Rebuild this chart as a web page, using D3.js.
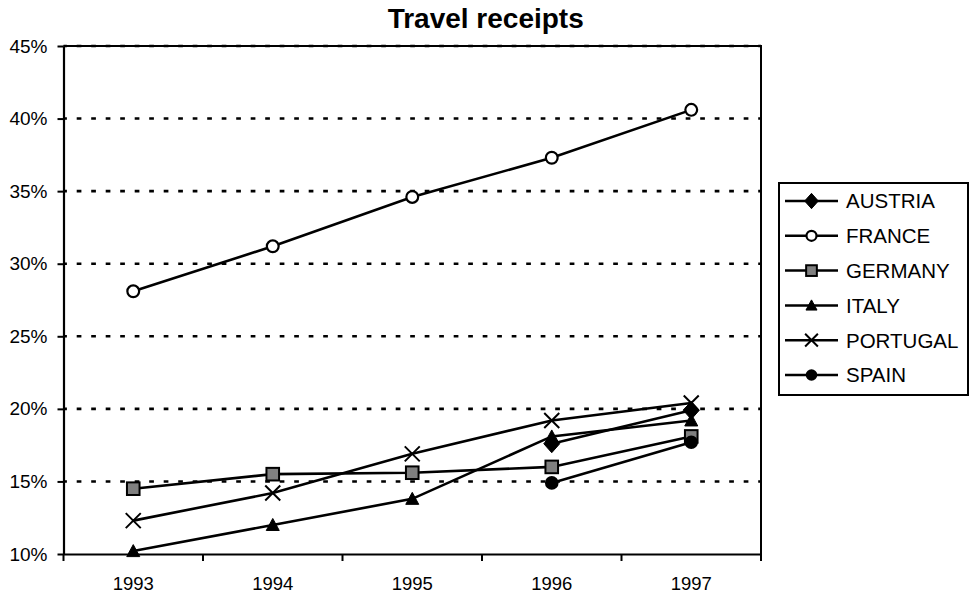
<!DOCTYPE html>
<html>
<head>
<meta charset="utf-8">
<script src="https://cdn.jsdelivr.net/npm/d3@7"></script>
<style>
  html, body { margin: 0; padding: 0; background: #fff; }
  svg { display: block; font-family: "Liberation Sans", Arial, sans-serif; }
</style>
</head>
<body>
<svg id="chart" width="969" height="596"></svg>
<script>
// Share of travel receipts, 1993-1997 (percent)
const years = ["1993", "1994", "1995", "1996", "1997"];
const countries = ["AUSTRIA", "FRANCE", "GERMANY", "ITALY", "PORTUGAL", "SPAIN"];
const austria  = [null, null, null, 17.6, 19.9];
const france   = [28.1, 31.2, 34.6, 37.3, 40.6];
const germany  = [14.5, 15.5, 15.6, 16.0, 18.1];
const italy    = [10.2, 12.0, 13.8, 18.1, 19.2];
const portugal = [12.3, 14.2, 16.9, 19.2, 20.4];
const spain    = [null, null, null, 14.9, 17.7];
const yTicks = [10, 15, 20, 25, 30, 35, 40, 45];

const seriesValues = [austria, france, germany, italy, portugal, spain];
const markerKinds = ["diamond", "circleOpen", "square", "triangle", "cross", "circle"];

const svg = d3.select("#chart");
const plotLeft = 63.5, plotRight = 761, plotTop = 46, plotBottom = 554;

const x = d3.scaleBand().domain(years).range([plotLeft, plotRight]).padding(0);
const y = d3.scaleLinear().domain([10, 45]).range([plotBottom, plotTop]);
const cx = d => x(d) + x.bandwidth() / 2;

// title
svg.append("text")
  .attr("x", 485.7).attr("y", 28)
  .attr("text-anchor", "middle")
  .attr("font-weight", "bold")
  .attr("font-size", 28)
  .text("Travel receipts");

// plot frame (top and right edges)
svg.append("path")
  .attr("d", `M${plotLeft},${plotTop}H${plotRight}V${plotBottom}`)
  .attr("fill", "none").attr("stroke", "#000").attr("stroke-width", 2);

// dotted gridlines
svg.append("g")
  .selectAll("line")
  .data(yTicks.filter(t => t > 10))
  .join("line")
  .attr("x1", plotLeft).attr("x2", plotRight)
  .attr("y1", d => y(d)).attr("y2", d => y(d))
  .attr("stroke", "#000").attr("stroke-width", 2.6)
  .attr("stroke-dasharray", "4.7,9.8")
  .attr("stroke-dashoffset", 1.3);

// y axis
const yAxis = svg.append("g")
  .attr("transform", `translate(${plotLeft},0)`)
  .call(d3.axisLeft(y).tickValues(yTicks).tickFormat(d => d + "%")
        .tickSizeInner(6).tickSizeOuter(0).tickPadding(10));
yAxis.select(".domain").attr("stroke-width", 2.2);
yAxis.selectAll(".tick line").attr("stroke-width", 2);
yAxis.selectAll("text").attr("font-size", 19).attr("fill", "#000")
  .style("font-family", "Liberation Sans, Arial, sans-serif");

// x axis
const xAxis = svg.append("g")
  .attr("transform", `translate(0,${plotBottom})`)
  .call(d3.axisBottom(x).tickSizeInner(0).tickSizeOuter(0).tickPadding(23));
xAxis.select(".domain").attr("stroke-width", 2.2);
xAxis.selectAll("text").attr("font-size", 18.5).attr("fill", "#000")
  .style("font-family", "Liberation Sans, Arial, sans-serif");

// category boundary ticks
const bounds = years.map(d => x(d)).concat([x.range()[1]]);
svg.append("g")
  .selectAll("line")
  .data(bounds)
  .join("line")
  .attr("x1", d => d).attr("x2", d => d)
  .attr("y1", plotBottom).attr("y2", plotBottom + 7)
  .attr("stroke", "#000").attr("stroke-width", 2);

// marker drawing
function drawMarker(g, kind, px, py, scale) {
  const s = scale || 1;
  if (kind === "diamond") {
    g.append("path")
      .attr("d", `M${px},${py - 9 * s}L${px + 8 * s},${py}L${px},${py + 9 * s}L${px - 8 * s},${py}Z`)
      .attr("fill", "#000").attr("stroke", "#000").attr("stroke-width", 1);
  } else if (kind === "circleOpen") {
    g.append("circle").attr("cx", px).attr("cy", py).attr("r", 5.9 * s)
      .attr("fill", "#fff").attr("stroke", "#000").attr("stroke-width", 2.2);
  } else if (kind === "square") {
    g.append("rect").attr("x", px - 6.3 * s).attr("y", py - 6.3 * s)
      .attr("width", 12.6 * s).attr("height", 12.6 * s)
      .attr("fill", "#808080").attr("stroke", "#000").attr("stroke-width", 2);
  } else if (kind === "triangle") {
    g.append("path")
      .attr("d", `M${px},${py - 6.5 * s}L${px + 6.5 * s},${py + 5.5 * s}L${px - 6.5 * s},${py + 5.5 * s}Z`)
      .attr("fill", "#000").attr("stroke", "#000").attr("stroke-width", 1);
  } else if (kind === "cross") {
    const r = 7.5 * s;
    g.append("path")
      .attr("d", `M${px - r},${py - r}L${px + r},${py + r}M${px - r},${py + r}L${px + r},${py - r}`)
      .attr("stroke", "#000").attr("stroke-width", 2).attr("fill", "none");
  } else if (kind === "circle") {
    g.append("circle").attr("cx", px).attr("cy", py).attr("r", 6.8 * s)
      .attr("fill", "#000");
  }
}

// series
const line = d3.line()
  .defined(d => d.v !== null)
  .x(d => cx(d.year))
  .y(d => y(d.v));

seriesValues.forEach((vals, i) => {
  const pts = years.map((yr, j) => ({ year: yr, v: vals[j] }));
  const g = svg.append("g");
  g.append("path")
    .datum(pts)
    .attr("d", line)
    .attr("fill", "none").attr("stroke", "#000").attr("stroke-width", 2.6);
  pts.filter(p => p.v !== null).forEach(p => drawMarker(g, markerKinds[i], cx(p.year), y(p.v)));
});

// legend
const legend = svg.append("g");
legend.append("rect")
  .attr("x", 779).attr("y", 183).attr("width", 189).attr("height", 212)
  .attr("fill", "#fff").attr("stroke", "#000").attr("stroke-width", 2);
countries.forEach((name, i) => {
  const ly = 201 + i * 34.8;
  const item = legend.append("g");
  item.append("line").attr("x1", 785).attr("x2", 838).attr("y1", ly).attr("y2", ly)
    .attr("stroke", "#000").attr("stroke-width", 2.5);
  drawMarker(item, markerKinds[i], 811.5, ly, 0.85);
  item.append("text").attr("x", 846).attr("y", ly).attr("dy", "0.36em")
    .attr("font-size", 20.5).text(name);
});
</script>
</body>
</html>
